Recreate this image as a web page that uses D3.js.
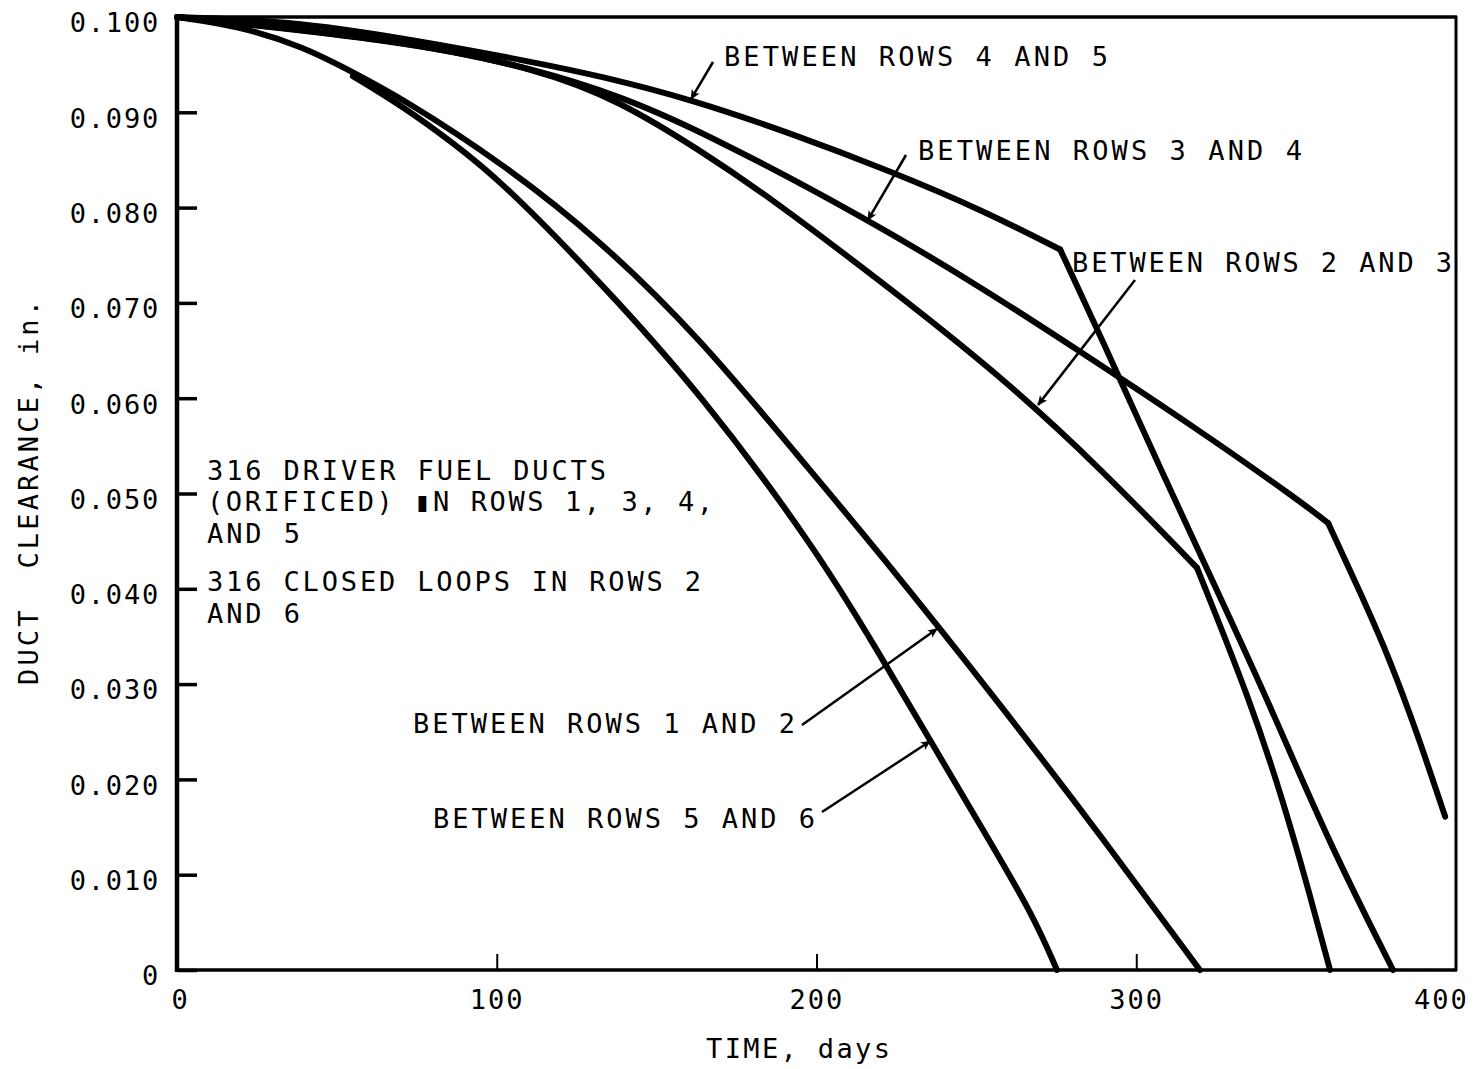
<!DOCTYPE html>
<html>
<head>
<meta charset="utf-8">
<script src="https://cdn.jsdelivr.net/npm/d3@7"></script>
<style>
    html, body { margin: 0; padding: 0; background: #fff; }
    svg { display: block; }
    text { font-family: "DejaVu Sans Mono", monospace; fill: #000; }
</style>
</head>
<body>
<div id="chart"></div>
<script>
// values: [time (days), duct clearance (in.)]
const rows45 = [[0, 0.1000], [34.4, 0.0996], [70.7, 0.0978], [112.6, 0.0952], [132.3, 0.0938],
    [160.4, 0.0914], [192.0, 0.0878], [223.3, 0.0838], [252.1, 0.0797], [276.2, 0.0756],
    [288.7, 0.0666], [307.4, 0.0527], [327.1, 0.0385], [341.8, 0.0278], [360.6, 0.0131],
    [380.3, 0]];
const rows34 = [[0, 0.1000], [70.7, 0.0976], [112.6, 0.0945], [138.5, 0.0917], [163.6, 0.0881],
    [216.1, 0.0788], [252.1, 0.0715], [280.2, 0.0654], [319.9, 0.0566], [351.2, 0.0492],
    [360.0, 0.0469], [370.9, 0.0390], [379.4, 0.0325], [387.8, 0.0249], [396.6, 0.0161]];
const rows23 = [[0, 0.1000], [70.7, 0.0975], [112.6, 0.0946], [138.5, 0.0912], [163.6, 0.0860],
    [184.5, 0.0813], [220.8, 0.0721], [257.4, 0.0624], [288.7, 0.0527], [319.0, 0.0422],
    [335.6, 0.0283], [345.9, 0.0178], [354.3, 0.0079], [360.6, 0]];
const rows12 = [[0, 0.1000], [18.8, 0.0991], [39.4, 0.0969], [55.0, 0.0942], [70.7, 0.0914],
    [102.0, 0.0846], [132.3, 0.0766], [163.6, 0.0663], [194.8, 0.0537], [218.9, 0.0441],
    [257.4, 0.0279], [288.7, 0.0142], [319.9, 0]];
const rows56 = [[55.0, 0.0938], [70.7, 0.0906], [86.3, 0.0868], [102.0, 0.0826], [132.3, 0.0722],
    [163.6, 0.0606], [200.2, 0.0440], [218.9, 0.0336], [236.4, 0.0236], [252.1, 0.0147],
    [267.7, 0.0058], [275.2, 0]];

const curves = [rows45, rows34, rows23, rows12, rows56];
// days where a curve has a sharp break in slope (null = smooth)
const kinkDays = [276.2, 360.0, 319.0, null, null];

const xTicks = [0, 100, 200, 300, 400];
const yTicks = [0, 0.01, 0.02, 0.03, 0.04, 0.05, 0.06, 0.07, 0.08, 0.09, 0.1];

// callout labels; tip = point on the curve (data units)
const callouts = [
    { text: 'BETWEEN ROWS 4 AND 5', tip: [160.8, 0.0914] },
    { text: 'BETWEEN ROWS 3 AND 4', tip: [216.1, 0.0787] },
    { text: 'BETWEEN ROWS 2 AND 3', tip: [269.3, 0.0593] },
    { text: 'BETWEEN ROWS 1 AND 2', tip: [237.7, 0.0358] },
    { text: 'BETWEEN ROWS 5 AND 6', tip: [235.5, 0.0240] }
];
const noteLines = ['316 DRIVER FUEL DUCTS', '(ORIFICED) \u25AEN ROWS 1, 3, 4,', 'AND 5',
    '316 CLOSED LOOPS IN ROWS 2', 'AND 6'];

const width = 1476, height = 1069;
const x = d3.scaleLinear().domain([0, 400]).range([177, 1456]);
const y = d3.scaleLinear().domain([0, 0.1]).range([970, 17]);

const svg = d3.select('#chart').append('svg')
    .attr('width', width)
    .attr('height', height);

svg.append('defs').append('marker')
    .attr('id', 'arr')
    .attr('viewBox', '0 0 10 10')
    .attr('refX', 9).attr('refY', 5)
    .attr('markerUnits', 'userSpaceOnUse')
    .attr('markerWidth', 20).attr('markerHeight', 10)
    .attr('orient', 'auto')
    .append('path')
    .attr('d', 'M0,0.5 L10,5 L0,9.5 L2.5,5 z')
    .attr('fill', '#000');

// frame
svg.append('line').attr('x1', 177).attr('x2', 177).attr('y1', 15).attr('y2', 972)
    .attr('stroke', '#000').attr('stroke-width', 4.5);
svg.append('line').attr('x1', 175).attr('x2', 1457).attr('y1', 970).attr('y2', 970)
    .attr('stroke', '#000').attr('stroke-width', 3.5);
svg.append('line').attr('x1', 175).attr('x2', 1457).attr('y1', 17).attr('y2', 17)
    .attr('stroke', '#000').attr('stroke-width', 3.5);
svg.append('line').attr('x1', 1456).attr('x2', 1456).attr('y1', 16).attr('y2', 971)
    .attr('stroke', '#000').attr('stroke-width', 3);

// axes with inward ticks
const yAxis = svg.append('g')
    .attr('transform', 'translate(177,0)')
    .call(d3.axisLeft(y).tickValues(yTicks).tickSizeInner(-20).tickSizeOuter(0).tickPadding(17)
        .tickFormat(d => d === 0 ? '0' : d3.format('.3f')(d)));
yAxis.select('.domain').remove();
yAxis.selectAll('line').attr('stroke', '#000').attr('stroke-width', 3.5);
yAxis.selectAll('text')
    .attr('font-size', 27)
    .attr('font-family', '"DejaVu Sans Mono", monospace')
    .attr('letter-spacing', 1.8)
    .attr('dy', '0.55em')
    .attr('fill', '#000');

const xAxis = svg.append('g')
    .attr('transform', 'translate(0,970)')
    .call(d3.axisBottom(x).tickValues(xTicks).tickSizeInner(-16).tickSizeOuter(0).tickPadding(20)
        .tickFormat(d3.format('d')));
xAxis.select('.domain').remove();
xAxis.selectAll('line').attr('stroke', '#000').attr('stroke-width', 2)
    .attr('display', d => (d === 0 || d === 400) ? 'none' : null);
xAxis.selectAll('text')
    .attr('font-size', 27)
    .attr('font-family', '"DejaVu Sans Mono", monospace')
    .attr('letter-spacing', 2)
    .attr('fill', '#000')
    .attr('dx', d => d === 400 ? -15 : (d === 0 ? 3 : 0));

// axis titles
svg.append('text')
    .attr('x', 706).attr('y', 1058)
    .attr('font-size', 27)
    .attr('textLength', 184).attr('lengthAdjust', 'spacing')
    .text('TIME, days');

svg.append('text')
    .attr('transform', 'translate(38,685) rotate(-90)')
    .attr('font-size', 27)
    .style('white-space', 'pre')
    .attr('textLength', 385).attr('lengthAdjust', 'spacing')
    .text('DUCT  CLEARANCE, in.');

// curves: split at the slope break, each piece drawn smooth
const line = d3.line()
    .x(d => x(d[0]))
    .y(d => y(d[1]))
    .curve(d3.curveBasis);

const pieces = [];
curves.forEach((pts, i) => {
    const k = kinkDays[i];
    if (k === null) {
        pieces.push(pts);
    } else {
        pieces.push(pts.filter(p => p[0] <= k));
        pieces.push(pts.filter(p => p[0] >= k));
    }
});

svg.append('g').selectAll('path')
    .data(pieces)
    .enter()
    .append('path')
    .attr('fill', 'none')
    .attr('stroke', '#000')
    .attr('stroke-width', 6)
    .attr('stroke-linejoin', 'round')
    .attr('stroke-linecap', 'round')
    .attr('d', line);

// callouts: label position and arrow tail in pixels
const calloutLayout = [
    { lx: 724, ly: 66, len: 384, tail: [713, 62] },
    { lx: 918, ly: 160, len: 384, tail: [906, 155] },
    { lx: 1072, ly: 272, len: 380, tail: [1135, 280] },
    { lx: 413, ly: 733, len: 382, tail: [802, 725] },
    { lx: 433, ly: 828, len: 382, tail: [822, 812] }
];

const cg = svg.append('g');
callouts.forEach((c, i) => {
    const l = calloutLayout[i];
    cg.append('text')
        .attr('x', l.lx).attr('y', l.ly)
        .attr('font-size', 27)
        .attr('textLength', l.len).attr('lengthAdjust', 'spacing')
        .text(c.text);
    cg.append('line')
        .attr('x1', l.tail[0]).attr('y1', l.tail[1])
        .attr('x2', x(c.tip[0])).attr('y2', y(c.tip[1]))
        .attr('stroke', '#000')
        .attr('stroke-width', 2.5)
        .attr('marker-end', 'url(#arr)');
});

// note text block
const noteBase = [480, 511, 543, 591, 623];
const noteLen = [399, 506, 93, 494, 93];
svg.append('g').selectAll('text')
    .data(noteLines)
    .enter()
    .append('text')
    .attr('x', 207)
    .attr('y', (d, i) => noteBase[i])
    .attr('font-size', 27)
    .attr('textLength', (d, i) => noteLen[i])
    .attr('lengthAdjust', 'spacing')
    .text(d => d);
</script>
</body>
</html>
